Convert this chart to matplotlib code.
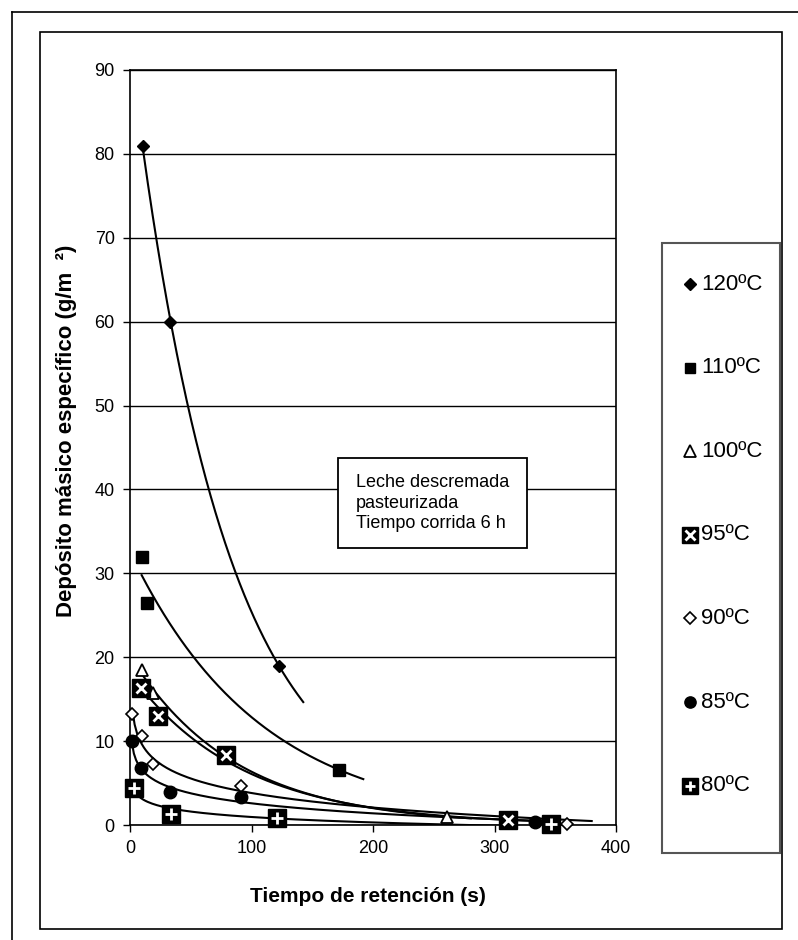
import numpy as np
import matplotlib
matplotlib.use('Agg')
import matplotlib.pyplot as plt
from matplotlib.patches import Rectangle

plt.rcParams['font.family'] = ['Liberation Sans', 'DejaVu Sans']

# datos
labels = ['120ºC', '110ºC', '100ºC', '95ºC', '90ºC', '85ºC', '80ºC']
x120 = [10.7, 32.9, 122.6]
y120 = [81.0, 60.0, 19.0]
x110 = [9.6, 14.2, 172.0]
y110 = [32.0, 26.5, 6.6]
x100 = [9.6, 19.2, 260.5]
y100 = [18.5, 15.7, 1.0]
x95 = [9.1, 23.3, 79.0, 311.0]
y95 = [16.3, 13.0, 8.4, 0.6]
x90 = [1.9, 10.1, 19.2, 91.4, 360.0]
y90 = [13.2, 10.6, 7.3, 4.65, 0.1]
x85 = [1.4, 9.1, 32.9, 91.4, 333.0]
y85 = [10.0, 6.8, 3.9, 3.3, 0.4]
x80 = [3.6, 33.7, 121.2, 346.5]
y80 = [4.4, 1.3, 0.8, 0.1]

xs = [x120, x110, x100, x95, x90, x85, x80]
ys = [y120, y110, y100, y95, y90, y85, y80]
# tipo de linea de tendencia (como en Excel) y pronostico hacia adelante
tipo = ['exp', 'exp', 'exp', 'exp', 'log', 'log', 'log']
adelante = 20

W, H = 798, 940
fig = plt.figure(figsize=(W / 100, H / 100), dpi=100)

# capa en pixeles para marcos, cuadro de texto y leyenda
lax = fig.add_axes([0, 0, 1, 1], facecolor='none')
lax.set_xlim(0, W)
lax.set_ylim(H, 0)
lax.axis('off')
lax.set_zorder(5)

lax.plot([12, 12], [12, H], color='black', lw=1.2)
lax.plot([12, W], [12, 12], color='black', lw=1.2)
lax.add_patch(Rectangle((40, 32), 742, 897, fill=False, edgecolor='black', lw=1.2))

ax = fig.add_axes([130 / W, 1 - 825 / H, 486 / W, 755 / H])
ax.set_zorder(1)


def dibujar_marcador(axe, x, y, i, escala=1.0, **kw):
    k = escala
    if i == 0:
        axe.plot(x, y, 'D', color='black', ms=6.5 * k, ls='none', **kw)
    elif i == 1:
        axe.plot(x, y, 's', color='black', ms=8.4 * k, ls='none', **kw)
    elif i == 2:
        axe.plot(x, y, '^', mfc='white', mec='black', mew=1.3, ms=9 * k, ls='none', **kw)
    elif i == 3:
        axe.plot(x, y, 's', color='black', ms=13 * k, ls='none', **kw)
        axe.plot(x, y, 'x', color='white', mew=2, ms=7.5 * k, ls='none', **kw)
    elif i == 4:
        axe.plot(x, y, 'D', mfc='white', mec='black', mew=1.2, ms=6.5 * k, ls='none', **kw)
    elif i == 5:
        axe.plot(x, y, 'o', color='black', ms=9 * k, ls='none', **kw)
    else:
        axe.plot(x, y, 's', color='black', ms=13 * k, ls='none', **kw)
        axe.plot(x, y, '+', color='white', mew=2, ms=8 * k, ls='none', **kw)


for i in range(7):
    x = np.array(xs[i])
    y = np.array(ys[i])
    xt = np.linspace(x.min(), x.max() + adelante, 200)
    if tipo[i] == 'exp':
        b, a = np.polyfit(x, np.log(y), 1)
        yt = np.exp(a + b * xt)
    else:
        b, a = np.polyfit(np.log(x), y, 1)
        yt = a + b * np.log(xt)
    ax.plot(xt, yt, color='black', lw=1.5, zorder=3)
    dibujar_marcador(ax, x, y, i, zorder=4, clip_on=False)

ax.set_xlim(0, 400)
ax.set_ylim(0, 90)
ax.set_xticks(np.arange(0, 401, 100))
ax.set_yticks(np.arange(0, 91, 10))
ax.yaxis.grid(True, color='black', lw=1)
ax.set_axisbelow(True)
for s in ax.spines.values():
    s.set_color('black')
    s.set_linewidth(1.2)
ax.tick_params(direction='out', length=5, width=1, labelsize=13, pad=6)

lax.text(67, 431, 'Depósito másico específico (g/m  ²)', rotation=90,
         ha='center', va='center', fontsize=16, fontweight='bold')
lax.text(368, 897, 'Tiempo de retención (s)', ha='center', va='center',
         fontsize=15, fontweight='bold')

# cuadro de texto
lax.add_patch(Rectangle((338, 458), 189, 90, facecolor='white', edgecolor='black', lw=1.3))
lax.text(356, 503, 'Leche descremada\npasteurizada\nTiempo corrida 6 h',
         ha='left', va='center', fontsize=13, linespacing=1.3)

# leyenda
lax.add_patch(Rectangle((662, 243), 118, 610, facecolor='white', edgecolor='#555555', lw=1.5))
for i in range(7):
    yl = 284 + i * 83.6
    dibujar_marcador(lax, [690], [yl], i, escala=0.9)
    lax.text(701, yl, labels[i], ha='left', va='center', fontsize=16)

fig.savefig('out.png', dpi=100)
